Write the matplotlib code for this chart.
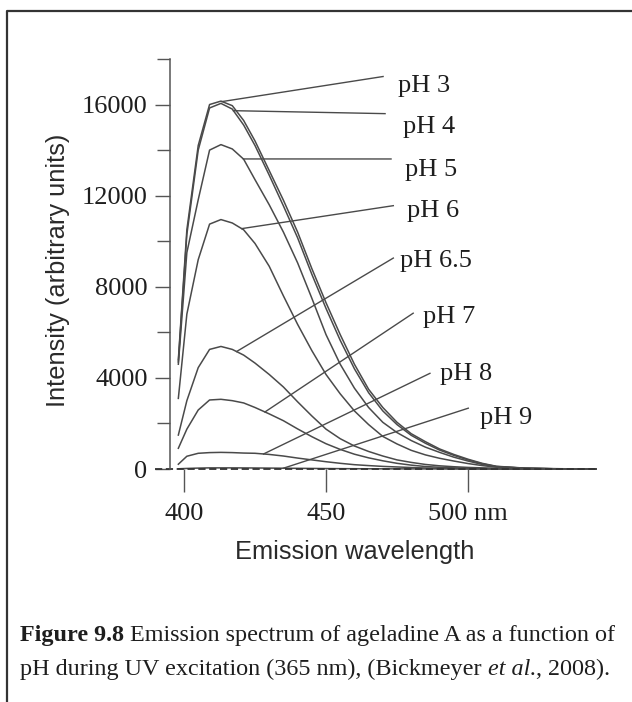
import matplotlib
matplotlib.use("Agg")
import matplotlib.pyplot as plt
import numpy as np
from matplotlib.lines import Line2D
from matplotlib.ticker import FixedLocator

# emission wavelength (nm)
wavelength = [398, 401, 405, 409, 413, 417, 421, 425, 430, 435, 440, 445, 450, 455,
              460, 465, 470, 475, 480, 485, 490, 495, 500, 505, 510, 520, 530, 545]

# intensity (arbitrary units)
ph3 = [4800, 10500, 14200, 16000, 16150, 15950, 15300, 14400, 13100, 11800, 10400, 8800, 7300, 5900,
       4600, 3500, 2700, 2050, 1550, 1200, 880, 640, 430, 250, 120, 40, 15, 0]
ph4 = [4700, 10300, 14000, 15850, 16050, 15800, 15100, 14200, 12900, 11550, 10150, 8550, 7050, 5650,
       4400, 3350, 2550, 1950, 1480, 1130, 830, 600, 400, 230, 110, 35, 12, 0]
ph5 = [4600, 9500, 11820, 14000, 14240, 14050, 13600, 12700, 11600, 10400, 9050, 7500, 5900, 4600,
       3550, 2700, 2050, 1600, 1250, 960, 730, 520, 350, 200, 100, 35, 12, 0]
ph6 = [3100, 6800, 9190, 10750, 10950, 10800, 10500, 9900, 8900, 7600, 6350, 5200, 4150, 3300,
       2550, 1950, 1430, 1100, 820, 620, 470, 350, 240, 150, 80, 25, 8, 0]
ph65 = [1490, 3000, 4450, 5250, 5380, 5250, 5000, 4650, 4150, 3600, 2950, 2330, 1750, 1330,
        1010, 770, 570, 400, 290, 200, 140, 100, 70, 50, 30, 12, 5, 0]
ph7 = [910, 1750, 2590, 3030, 3060, 3000, 2900, 2700, 2420, 2120, 1760, 1420, 1110, 860,
       650, 490, 360, 250, 170, 110, 75, 50, 35, 25, 15, 6, 3, 0]
ph8 = [210, 560, 690, 720, 730, 720, 700, 690, 640, 570, 480, 400, 320, 250,
       190, 150, 115, 90, 65, 45, 30, 20, 12, 8, 5, 2, 1, 0]
ph9 = [10, 25, 40, 50, 50, 50, 48, 45, 40, 35, 30, 25, 20, 16,
       13, 10, 8, 6, 5, 4, 3, 2, 1, 1, 0, 0, 0, 0]

series = [ph3, ph4, ph5, ph6, ph65, ph7, ph8, ph9]
names = ["pH 3", "pH 4", "pH 5", "pH 6", "pH 6.5", "pH 7", "pH 8", "pH 9"]

# label anchors: wavelength where the leader leaves the curve, leader end, text position
leader_from = [413.4, 417.4, 420.9, 420.3, 418.5, 428.5, 428.0, 435.0]
leader_to = [(470.1, 17230), (470.8, 15600), (472.9, 13610), (473.7, 11560),
             (473.7, 9260), (480.7, 6840), (486.6, 4200), (500.1, 2670)]
label_at = [(475.5, 16570), (477.0, 14770), (477.8, 12870), (478.4, 11080),
            (476.1, 8870), (484.3, 6400), (490.1, 3910), (504.2, 1990)]

line_col = "#4a4a4a"
text_col = "#1e1e1e"
serif = "Liberation Serif"
sans = "Liberation Sans"

fig = plt.figure(figsize=(6.32, 7.02), dpi=100)
ax = fig.add_axes([0.2687, 0.3319, 0.6785, 0.5841])

for ys in series:
    ax.plot(wavelength, ys, color=line_col, lw=1.1, clip_on=False)

for ys, name, w0, end, pos in zip(series, names, leader_from, leader_to, label_at):
    y0 = np.interp(w0, wavelength, ys)
    ax.plot([w0, end[0]], [y0, end[1]], color=line_col, lw=1.0, clip_on=False)
    ax.text(pos[0], pos[1], name, ha="left", va="baseline", family=serif,
            fontsize=19, color=text_col, clip_on=False)

ax.axhline(0, xmin=-0.035, xmax=1.0, color="#333333", lw=1.3,
           linestyle=(0, (4, 2)), clip_on=False)

ax.set_xlim(395, 546)
ax.set_ylim(0, 18000)

for side in ["top", "right", "bottom"]:
    ax.spines[side].set_visible(False)
ax.spines["left"].set_color("#555555")
ax.spines["left"].set_linewidth(1.1)

ax.yaxis.set_major_locator(FixedLocator([0, 4000, 8000, 12000, 16000]))
ax.yaxis.set_minor_locator(FixedLocator([2000, 6000, 10000, 14000, 18000]))
ax.set_yticklabels(["0", "4000", "8000", "12000", "16000"])
ax.tick_params(axis="y", which="major", length=10.5, width=1.0, color="#555555",
               pad=5.5, labelsize=19, labelcolor=text_col)
ax.tick_params(axis="y", which="minor", length=9.5, width=1.0, color="#555555")
ax.set_xticks([400, 450, 500])
ax.set_xticklabels(["400", "450", "500 nm"])
ax.tick_params(axis="x", length=16.5, width=1.0, color="#555555", pad=8,
               labelsize=19, labelcolor=text_col)
for lab in ax.get_xticklabels() + ax.get_yticklabels():
    lab.set_family(serif)

fig.text(58 / 632, 1 - 270 / 702, "Intensity (arbitrary units)", rotation=90,
         ha="center", va="center", family=sans, fontsize=18.3, color="#2a2a2a")
fig.text(355 / 632, 1 - 552 / 702, "Emission wavelength", ha="center", va="center",
         family=sans, fontsize=18.3, color="#2a2a2a")

# caption, written piece by piece so bold / italic parts sit inline
renderer = fig.canvas.get_renderer()
caption_lines = [
    (641, [("Figure 9.8", "bold", "normal"),
           (" Emission spectrum of ageladine A as a function of", "normal", "normal")]),
    (675, [("pH during UV excitation (365 nm), (Bickmeyer ", "normal", "normal"),
           ("et al.", "normal", "italic"),
           (", 2008).", "normal", "normal")]),
]
for y_px, pieces in caption_lines:
    x_px = 20
    for txt, weight, style in pieces:
        t = fig.text(x_px / 632, 1 - y_px / 702, txt, ha="left", va="baseline",
                     family=serif, fontsize=17.4, fontweight=weight, fontstyle=style,
                     color=text_col)
        x_px = t.get_window_extent(renderer).x1

fig.add_artist(Line2D([7 / 632, 7 / 632, 1.0], [0.0, 691 / 702, 691 / 702],
                      transform=fig.transFigure, color="#333333", lw=1.6))

fig.savefig("out.png", dpi=100, facecolor="white")
